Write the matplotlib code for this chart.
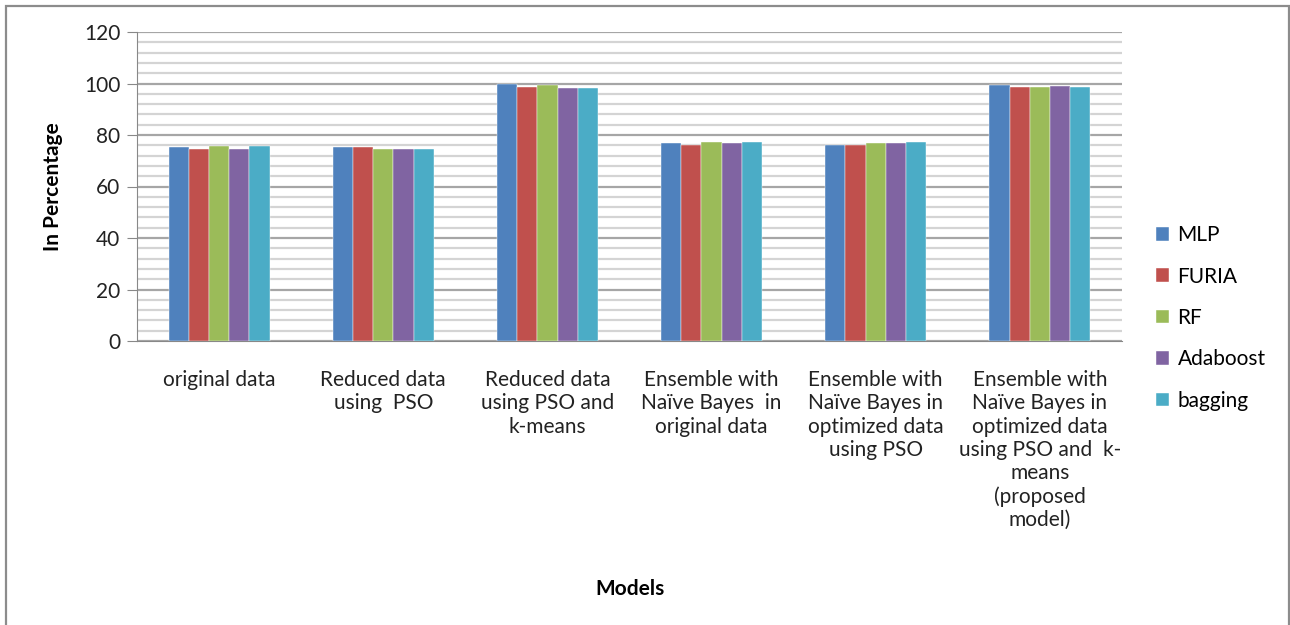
import matplotlib.pyplot as plt
import numpy as np
from matplotlib.patches import Rectangle

plt.rcParams['font.family'] = ['Lato', 'DejaVu Sans']

categories = [
    'original data',
    'Reduced data\nusing  PSO',
    'Reduced data\nusing PSO and\nk-means',
    'Ensemble with\nNaïve Bayes  in\noriginal data',
    'Ensemble with\nNaïve Bayes in\noptimized data\nusing PSO',
    'Ensemble with\nNaïve Bayes in\noptimized data\nusing PSO and  k-\nmeans\n(proposed\nmodel)',
]
series = ['MLP', 'FURIA', 'RF', 'Adaboost', 'bagging']
mlp = [75.3, 75.3, 100.0, 76.7, 76.2, 99.5]
furia = [74.6, 75.3, 98.7, 76.2, 76.2, 98.7]
rf = [75.9, 74.6, 99.5, 77.2, 76.8, 98.7]
adaboost = [74.6, 74.6, 98.3, 77.0, 76.7, 99.1]
bagging = [75.9, 74.6, 98.3, 77.2, 77.2, 98.7]
colors = ['#4F81BD', '#C0504D', '#9BBB59', '#8064A2', '#4BACC6']

fs = 15

fig = plt.figure(figsize=(12.9, 6.25), dpi=100)
ax = fig.add_axes([137 / 1290, 1 - 341 / 625, 985 / 1290, 309 / 625])

x = np.arange(len(categories))
w = 0.123
for i, (name, vals) in enumerate(zip(series, [mlp, furia, rf, adaboost, bagging])):
    ax.bar(x + (i - 2) * w, vals, w, color=colors[i], label=name, zorder=3,
           edgecolor='white', linewidth=0.3)

ax.set_xlim(-0.5, len(categories) - 0.5)
ax.set_ylim(0, 120)
ax.set_yticks(range(0, 121, 20))
ax.set_yticks(np.arange(0, 121, 4), minor=True)
ax.grid(axis='y', which='major', color='#a6a6a6', linewidth=1.6, zorder=0)
ax.grid(axis='y', which='minor', color='#d4d4d4', linewidth=1.6, zorder=0)
ax.tick_params(axis='y', which='minor', length=0)
ax.tick_params(axis='y', which='major', length=7, color='#888888', labelsize=fs,
               labelcolor='#222222', pad=5)
ax.set_xticks(x)
ax.set_xticklabels(categories, fontsize=fs, color='#222222', linespacing=1.2, va='top')
ax.tick_params(axis='x', length=0, pad=21)
for s in ['top', 'right']:
    ax.spines[s].set_visible(False)
ax.spines['left'].set_color('#888888')
ax.spines['bottom'].set_color('#888888')

ax.set_ylabel('In Percentage', fontsize=fs, fontweight='bold')
ax.yaxis.set_label_coords(-74 / 985, 0.5)
fig.text(630 / 1290, 1 - 589 / 625, 'Models', fontsize=fs, fontweight='bold',
         ha='center', va='center')

fig.legend(loc='center left', bbox_to_anchor=(1148 / 1290, 1 - 318 / 625),
           frameon=False, fontsize=fs, handlelength=0.62, handleheight=0.62,
           handletextpad=0.4, labelspacing=1.03, borderaxespad=0)

fig.patches.append(Rectangle((6 / 1290, -10 / 625), 1283 / 1290, 629 / 625,
                             transform=fig.transFigure, fill=False,
                             edgecolor='#8c8c8c', linewidth=1.6))

fig.savefig('out.png', dpi=100)
